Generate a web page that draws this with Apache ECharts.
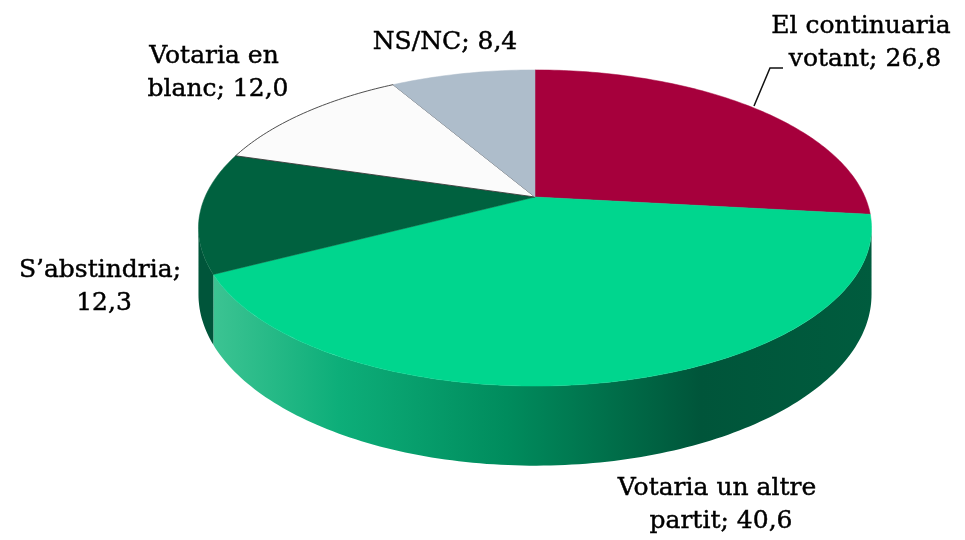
<!DOCTYPE html>
<html><head><meta charset="utf-8">
<script src="https://cdn.jsdelivr.net/npm/echarts@6/dist/echarts.min.js"></script>
<style>html,body{margin:0;padding:0;background:#fff}#c{width:965px;height:540px}</style>
</head><body><div id="c"></div>
<script>
// ---- data ----
const categories = ['El continuaria votant', 'Votaria un altre partit', 'S\u2019abstindria', 'Votaria en blanc', 'NS/NC'];
const values = [26.8, 40.6, 12.3, 12.0, 8.4];

// ---- styles / layout ----
const topColors = ['#A6003C', '#00D68E', '#00613F', '#FBFBFB', '#AEBDCB'];
const wallColors = ['#7A002C', null, '#00553A', '#D8D8D8', '#8A99A8'];
const labelLayout = [
  {x: 865, y: 42.5, w: 200},
  {x: 721, y: 504.5, w: 215},
  {x: 100, y: 287, w: 180},
  {x: 218, y: 72.5, w: 150},
  {x: 445, y: 42, w: 220}
];
const leader = [[783, 68], [770, 68], [754, 106]];

const CX = 535, CY = 197, A = 330, B = 152, P = 0.196, D = 64;
const total = values.reduce((a, b) => a + b, 0);
const starts = [];
let acc = 0;
values.forEach(v => { starts.push(acc / total * Math.PI * 2); acc += v; });

function proj(t, drop) {
  const u = Math.sin(t), v = -Math.cos(t);
  const w = 1 / (1 - P * v);
  return [CX + A * u * w, CY + B * v * w + drop * w];
}
function arc(t0, t1, drop) {
  const pts = [];
  const n = Math.max(2, Math.ceil((t1 - t0) / (Math.PI / 180)));
  for (let i = 0; i <= n; i++) pts.push(proj(t0 + (t1 - t0) * i / n, drop));
  return pts;
}
const tR = Math.acos(-P), tL = 2 * Math.PI - Math.acos(-P);

const greenWall = new echarts.graphic.LinearGradient(205, 0, 875, 0, [
  {offset: 0, color: '#3FC594'},
  {offset: 0.2, color: '#0DAE79'},
  {offset: 0.45, color: '#008C5D'},
  {offset: 0.62, color: '#006C48'},
  {offset: 0.74, color: '#00553A'},
  {offset: 1, color: '#005C3E'}
], true);

function fmt(v) { return v.toFixed(1).replace('.', ','); }

const chart = echarts.init(document.getElementById('c'));
chart.setOption({
  animation: false,
  series: [{
    type: 'custom',
    coordinateSystem: 'none',
    data: values.map((v, i) => [i, v]),
    renderItem: function (params, api) {
      const i = params.dataIndex;
      const v = api.value(1);
      const t0 = starts[i];
      const t1 = t0 + v / total * Math.PI * 2;
      const children = [];
      const topPts = [[CX, CY]].concat(arc(t0, t1, 0));
      children.push({
        type: 'polygon', z2: 10,
        shape: {points: topPts},
        style: {fill: topColors[i], stroke: i === 3 ? '#3a3a3a' : topColors[i], lineWidth: i === 3 ? 0.9 : 0.5}
      });
      const a0 = Math.max(t0, tR), a1 = Math.min(t1, tL);
      if (a1 > a0) {
        const up = arc(a0, a1, 0);
        const down = arc(a0, a1, D).reverse();
        children.push({
          type: 'polygon', z2: 1,
          shape: {points: up.concat(down)},
          style: {fill: i === 1 ? greenWall : wallColors[i], stroke: null}
        });
      }
      const L = labelLayout[i];
      children.push({
        type: 'text', z2: 20, x: L.x, y: L.y,
        style: {
          text: categories[i] + '; ' + fmt(v),
          font: '25px "DejaVu Serif"',
          fill: '#000',
          stroke: '#000', lineWidth: 0.45,
          align: 'center', verticalAlign: 'middle',
          width: L.w, overflow: 'break', lineHeight: 33
        }
      });
      if (i === 0) {
        children.push({
          type: 'polyline', z2: 15,
          shape: {points: leader},
          style: {stroke: '#111', lineWidth: 1.5, fill: null}
        });
      }
      return {type: 'group', children: children};
    }
  }]
});
</script></body></html>
